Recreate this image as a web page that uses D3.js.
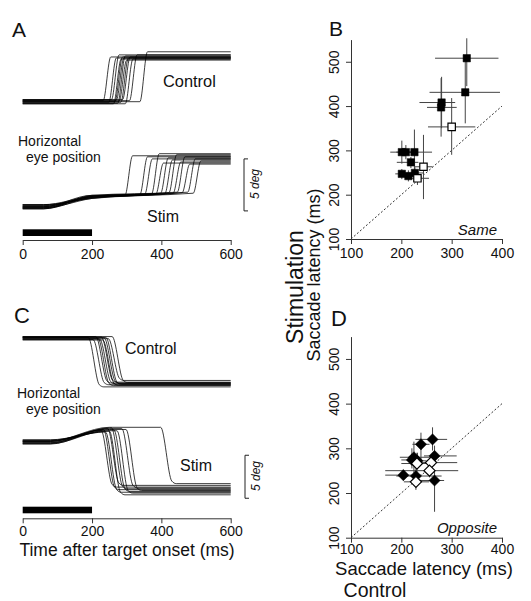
<!DOCTYPE html>
<html><head><meta charset="utf-8">
<script src="https://cdn.jsdelivr.net/npm/d3@7"></script>
<style>
html,body{margin:0;padding:0;background:#fff;}
text{font-family:"Liberation Sans",Arial,Helvetica,sans-serif;fill:#111;}
</style></head>
<body>
<svg id="fig" width="531" height="601"></svg>
<script>
// ---------------- DATA ----------------
const timeTicks = [0, 200, 400, 600];
const stimWindow = [0, 200];
const latXTicks = [100, 200, 300, 400];
const latYTicks = [100, 200, 300, 400, 500];
const unity = [100, 400];

// Panel A, control traces (deg)
const ctrlA_onset = [232, 248, 256, 262, 266, 270, 274, 278, 283, 288, 296, 308, 338];
const ctrlA_start = [0.1, -0.1, 0.2, -0.2, 0.0, 0.15, -0.15, 0.05, -0.05, 0.2, -0.2, 0.1, 0.0];
const ctrlA_end   = [4.3, 4.2, 4.5, 4.1, 4.3, 4.2, 4.4, 4.0, 4.2, 4.3, 4.1, 4.5, 4.8];
// Panel A, stim traces (deg)
const stimA_onset = [295, 338, 352, 372, 384, 398, 410, 422, 434, 446, 460, 476, 492];
const stimA_start = [-10.1, -10.3, -9.9, -10.2, -10.0, -10.3, -9.95, -10.15, -10.05, -10.25, -9.9, -10.1, -10.2];
const stimA_mid   = [-9.0, -9.2, -9.1, -9.3, -9.15, -9.05, -9.25, -9.1, -9.2, -9.0, -9.3, -9.1, -9.2];
const stimA_pre   = [-9.0, -8.95, -8.9, -8.85, -8.9, -8.8, -8.85, -8.75, -8.8, -8.7, -8.75, -8.7, -8.8];
const stimA_end   = [-5.2, -5.3, -5.5, -5.0, -5.9, -5.4, -5.6, -5.1, -5.8, -5.3, -6.0, -5.5, -5.7];
// Panel C, control traces (deg)
const ctrlC_onset = [189, 203, 211, 217, 222, 227, 231, 235, 240, 247, 258];
const ctrlC_start = [0.1, -0.15, 0.2, 0.0, -0.1, 0.15, -0.2, 0.05, 0.1, -0.05, 0.2];
const ctrlC_end   = [-5.65, -5.4, -5.2, -5.5, -5.3, -5.1, -5.45, -5.25, -5.35, -4.9, -5.15];
// Panel C, stim traces (deg)
const stimC_onset = [226, 233, 239, 245, 250, 256, 263, 272, 286, 298, 398];
const stimC_start = [-12.0, -12.2, -11.8, -12.3, -11.9, -12.1, -12.25, -11.85, -12.0, -12.15, -11.95];
const stimC_pre   = [-10.7, -10.6, -10.9, -10.5, -10.8, -10.4, -10.65, -10.75, -10.5, -10.6, -10.35];
const stimC_end   = [-17.3, -17.6, -17.9, -17.1, -18.2, -17.5, -17.8, -18.0, -17.4, -17.7, -16.9];
const scaleBarA = [-5.5, -10.5];
const scaleBarC = [-13.6, -18.6];

// Panel B (Same): control latency, stim latency, error ranges, open?
const B_x    = [330, 327, 280, 279, 300, 201, 209, 226, 219, 201, 214, 227, 244, 232];
const B_y    = [508, 431, 408, 397, 353, 296, 296, 296, 273, 247, 242, 249, 263, 237];
const B_xlo  = [267, 256, 236, 251, 253, 178, 190, 205, 191, 188, 200, 210, 226, 215];
const B_xhi  = [393, 396, 307, 310, 347, 225, 230, 261, 234, 215, 235, 245, 262, 255];
const B_ylo  = [445, 361, 350, 331, 290, 270, 280, 245, 260, 235, 230, 237, 190, 222];
const B_yhi  = [553, 501, 466, 463, 418, 322, 312, 347, 285, 258, 255, 262, 335, 250];
const B_open = [0, 0, 0, 0, 1, 0, 0, 0, 0, 0, 0, 0, 1, 1];

// Panel D (Opposite)
const D_x    = [262, 239, 266, 225, 221, 232, 231, 259, 256, 204, 229, 229, 266];
const D_y    = [320, 309, 283, 280, 274, 272, 266, 268, 250, 240, 238, 225, 228];
const D_xlo  = [228, 222, 245, 197, 200, 215, 200, 220, 168, 168, 190, 205, 230];
const D_xhi  = [291, 256, 310, 263, 240, 250, 262, 311, 313, 240, 280, 255, 285];
const D_ylo  = [295, 275, 262, 245, 255, 258, 245, 250, 235, 228, 220, 207, 158];
const D_yhi  = [347, 335, 306, 315, 300, 290, 290, 285, 265, 252, 255, 240, 250];
const D_open = [0, 0, 0, 0, 0, 0, 1, 1, 1, 0, 0, 1, 0];

// ---------------- DRAW ----------------
const svg = d3.select("#fig");
svg.append("rect").attr("width", 531).attr("height", 601).attr("fill", "#fff");

const xT = d3.scaleLinear().domain([0, 600]).range([22.7, 230.7]);
const yA = d3.scaleLinear().domain([0, 5]).range([101.7, 49.7]);
const yC = d3.scaleLinear().domain([0, -5]).range([338.3, 381.3]);

function drawTraces(g, ys, traces) {
  const line = d3.line().x(d => xT(d[0])).y(d => ys(d[1])).curve(d3.curveMonotoneX);
  g.selectAll(null).data(traces).enter().append("path")
    .attr("d", line).attr("fill", "none").attr("stroke", "#000")
    .attr("stroke-width", 0.9).attr("stroke-opacity", 0.85);
}

const gTr = svg.append("g");
drawTraces(gTr, yA, ctrlA_onset.map((on, i) => [[0, ctrlA_start[i]], [on, ctrlA_start[i]], [on + 22, ctrlA_end[i]], [600, ctrlA_end[i]]]));
drawTraces(gTr, yA, stimA_onset.map((on, i) => [[0, stimA_start[i]], [60, stimA_start[i]], [200, stimA_mid[i]], [on, stimA_pre[i]], [on + 22, stimA_end[i]], [600, stimA_end[i]]]));
drawTraces(gTr, yC, ctrlC_onset.map((on, i) => [[0, ctrlC_start[i]], [on, ctrlC_start[i]], [on + 32, ctrlC_end[i] + 0.25], [on + 45, ctrlC_end[i]], [600, ctrlC_end[i]]]));
drawTraces(gTr, yC, stimC_onset.map((on, i) => {
  const p = [[0, stimC_start[i]], [80, stimC_start[i]]];
  if (on > 262) p.push([250, stimC_pre[i]]);
  p.push([on, stimC_pre[i]], [on + 32, stimC_end[i] + 0.3], [on + 45, stimC_end[i]], [600, stimC_end[i]]);
  return p;
}));

function timeAxis(y, barTop, barBot, pad) {
  const ax = svg.append("g").attr("transform", `translate(0,${y})`)
    .call(d3.axisBottom(xT).tickValues(timeTicks).tickSize(5).tickSizeOuter(0).tickPadding(pad));
  ax.select(".domain").attr("stroke", "#333");
  ax.selectAll(".tick line").attr("stroke", "#333");
  ax.selectAll("text").attr("font-size", 14).attr("font-family", "Liberation Sans, Arial, sans-serif").attr("fill", "#111");
  svg.append("rect").attr("x", xT(stimWindow[0])).attr("width", xT(stimWindow[1]) - xT(stimWindow[0]))
    .attr("y", barTop).attr("height", barBot - barTop).attr("fill", "#000");
}
timeAxis(240, 229.3, 236, 4);
timeAxis(518.3, 506.7, 513.3, 3);

function scaleBar(x, ys, range, ty) {
  const y1 = ys(range[0]), y2 = ys(range[1]);
  svg.append("path").attr("d", `M${x + 4},${y1}H${x}V${y2}H${x + 4}`).attr("fill", "none").attr("stroke", "#222").attr("stroke-width", 1);
  svg.append("text").attr("transform", `translate(${x + 14.5},${ty}) rotate(-90)`).attr("text-anchor", "middle")
    .attr("font-size", 12).attr("font-style", "italic").text("5 deg");
}
scaleBar(244, yA, scaleBarA, 184);
scaleBar(245, yC, scaleBarC, 476);

const T = (x, y, s, size, opts = {}) => {
  const t = svg.append("text").attr("x", x).attr("y", y).attr("font-size", size).text(s);
  if (opts.anchor) t.attr("text-anchor", opts.anchor);
  if (opts.italic) t.attr("font-style", "italic");
  return t;
};
T(12, 37, "A", 21);
T(163, 87, "Control", 16.4);
T(18, 146, "Horizontal", 14);
T(26, 162, "eye position", 14);
T(147, 222, "Stim", 16);
T(14, 323, "C", 22);
T(125, 354, "Control", 16);
T(17, 398, "Horizontal", 14);
T(26, 414, "eye position", 14);
T(180, 471, "Stim", 16);
T(127, 556, "Time after target onset (ms)", 17.5, {anchor: "middle"});

function scatter(yTop, yBot, X, Y, XLO, XHI, YLO, YHI, OPEN, shape, tickPad) {
  const xs = d3.scaleLinear().domain([100, 400]).range([351, 502]);
  const ys = d3.scaleLinear().domain([100, 550]).range([yBot, yTop]);
  const g = svg.append("g");
  const ax = g.append("g").attr("transform", `translate(0,${yBot})`)
    .call(d3.axisBottom(xs).tickValues(latXTicks).tickSize(5).tickSizeOuter(0).tickPadding(tickPad));
  ax.selectAll("text").attr("font-size", 14).attr("font-family", "Liberation Sans, Arial, sans-serif").attr("fill", "#111");
  const ay = g.append("g").attr("transform", `translate(351,0)`)
    .call(d3.axisLeft(ys).tickValues(latYTicks).tickSize(5).tickSizeOuter(0));
  ay.selectAll("text").attr("font-size", 14).attr("font-family", "Liberation Sans, Arial, sans-serif").attr("fill", "#111")
    .attr("text-anchor", "middle").attr("x", 0).attr("dy", null).attr("y", -12).attr("transform", "rotate(-90)");
  g.selectAll(".domain, .tick line").attr("stroke", "#333");
  g.append("line").attr("x1", xs(unity[0])).attr("y1", ys(unity[0])).attr("x2", xs(unity[1])).attr("y2", ys(unity[1]))
    .attr("stroke", "#333").attr("stroke-width", 1).attr("stroke-dasharray", "2,2");
  const idx = d3.range(X.length);
  g.selectAll(null).data(idx).enter().append("line")
    .attr("x1", i => xs(XLO[i])).attr("x2", i => xs(XHI[i])).attr("y1", i => ys(Y[i])).attr("y2", i => ys(Y[i]))
    .attr("stroke", "#444").attr("stroke-width", 1);
  g.selectAll(null).data(idx).enter().append("line")
    .attr("x1", i => xs(X[i])).attr("x2", i => xs(X[i])).attr("y1", i => ys(YLO[i])).attr("y2", i => ys(YHI[i]))
    .attr("stroke", "#444").attr("stroke-width", 1);
  const order = idx.slice().sort((a, b) => OPEN[a] - OPEN[b]);
  g.selectAll(null).data(order).enter().append("path")
    .attr("transform", i => `translate(${xs(X[i])},${ys(Y[i])})`)
    .attr("d", shape === "square" ? "M-3.7,-3.7H3.7V3.7H-3.7Z" : "M0,-5.6L5.6,0L0,5.6L-5.6,0Z")
    .attr("fill", i => OPEN[i] ? "#fff" : "#000")
    .attr("stroke", "#000").attr("stroke-width", i => OPEN[i] ? 1.2 : 0.5);
}
scatter(39.6, 239, B_x, B_y, B_xlo, B_xhi, B_ylo, B_yhi, B_open, "square", 4);
scatter(336.6, 537.7, D_x, D_y, D_xlo, D_xhi, D_ylo, D_yhi, D_open, "diamond", 1);

T(329, 36, "B", 21);
T(331, 326, "D", 22);
T(497, 235, "Same", 15, {anchor: "end", italic: true});
T(497, 533, "Opposite", 15, {anchor: "end", italic: true});
svg.append("text").attr("transform", "translate(303,287) rotate(-90)").attr("text-anchor", "middle").attr("font-size", 23).text("Stimulation");
svg.append("text").attr("transform", "translate(320,275) rotate(-90)").attr("text-anchor", "middle").attr("font-size", 18).text("Saccade latency (ms)");
T(424, 575, "Saccade latency (ms)", 18.5, {anchor: "middle"});
T(375, 597, "Control", 19.5, {anchor: "middle"});
</script>
</body></html>
